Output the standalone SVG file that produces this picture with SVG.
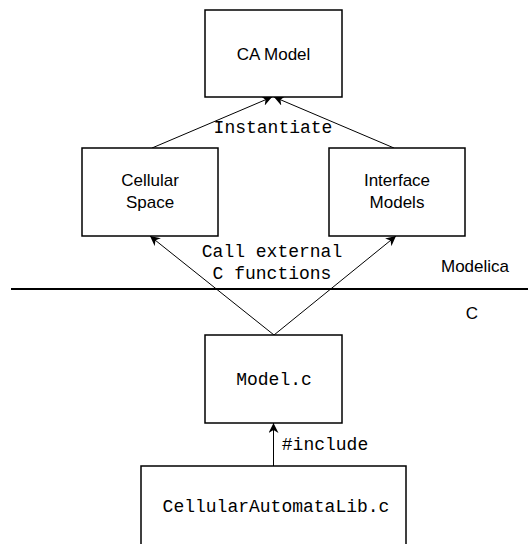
<svg xmlns="http://www.w3.org/2000/svg" width="528" height="544" viewBox="0 0 528 544">
<defs>
<marker id="arr" viewBox="0 0 10 10" refX="10" refY="5" markerWidth="10" markerHeight="10" markerUnits="userSpaceOnUse" orient="auto">
<path d="M0,0 L10,5 L0,10 L3,5 Z" fill="#000"/>
</marker>
<style>
.box{fill:#fff;stroke:#000;stroke-width:1.5}
.sans{font-family:"Liberation Sans",Arial,sans-serif;font-size:17px;fill:#000;text-anchor:middle}
.mono{font-family:"Liberation Mono","Courier New",monospace;font-size:18px;fill:#000;text-anchor:middle}
.conn{stroke:#000;stroke-width:1;fill:none;marker-end:url(#arr)}
</style>
</defs>
<rect width="528" height="544" fill="#fff"/>
<line x1="11" y1="289" x2="528" y2="289" stroke="#000" stroke-width="2"/>
<text class="sans" x="475" y="272">Modelica</text>
<text class="sans" x="472" y="319">C</text>
<g id="connectors">
<line class="conn" x1="152" y1="148" x2="272" y2="97"/>
<line class="conn" x1="394" y1="148" x2="274" y2="97"/>
<line class="conn" x1="274" y1="335" x2="150" y2="236"/>
<line class="conn" x1="274" y1="335" x2="396" y2="236"/>
<line class="conn" x1="273.5" y1="466" x2="273.5" y2="423"/>
<text class="mono" x="273" y="133">Instantiate</text>
<text class="mono" x="272" y="257">Call external</text>
<text class="mono" x="272" y="279">C functions</text>
<text class="mono" x="325" y="450">#include</text>
</g>
<g id="ca-model">
<rect class="box" x="205" y="10" width="137" height="87"/>
<text class="sans" x="273.5" y="60">CA Model</text>
</g>
<g id="cellular-space">
<rect class="box" x="82" y="148" width="136" height="88"/>
<text class="sans" x="150" y="186">Cellular</text>
<text class="sans" x="150" y="208">Space</text>
</g>
<g id="interface-models">
<rect class="box" x="329" y="148" width="136" height="88"/>
<text class="sans" x="397" y="186">Interface</text>
<text class="sans" x="397" y="208">Models</text>
</g>
<g id="model-c">
<rect class="box" x="205" y="335" width="137" height="88"/>
<text class="mono" x="274" y="385">Model.c</text>
</g>
<g id="cellular-automata-lib">
<rect class="box" x="141" y="466" width="265" height="90"/>
<text class="mono" x="276" y="512">CellularAutomataLib.c</text>
</g>
</svg>
